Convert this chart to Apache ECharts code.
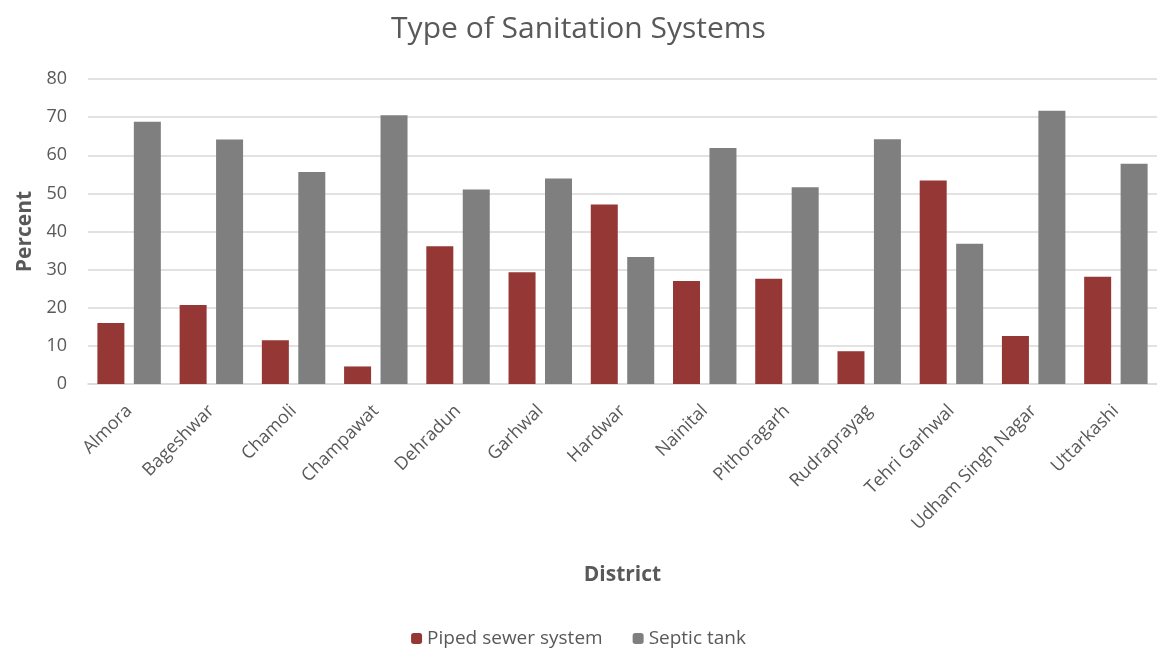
<!DOCTYPE html>
<html>
<head>
    <meta charset="utf-8">
    <title>Type of Sanitation Systems</title>
    <script src="https://cdn.jsdelivr.net/npm/echarts@6/dist/echarts.min.js"></script>
</head>
<body style="margin:0;background:#fff;">
    <div id="main" style="width:1157px;height:650px;"></div>
    <script type="text/javascript">
        // data
        var districts = ['Almora', 'Bageshwar', 'Chamoli', 'Champawat', 'Dehradun', 'Garhwal', 'Hardwar',
            'Nainital', 'Pithoragarh', 'Rudraprayag', 'Tehri Garhwal', 'Udham Singh Nagar', 'Uttarkashi'];
        var pipedSewer = [16.0, 20.7, 11.5, 4.6, 36.1, 29.3, 47.1, 27.0, 27.6, 8.6, 53.4, 12.6, 28.1];
        var septicTank = [68.8, 64.1, 55.6, 70.5, 51.0, 53.9, 33.3, 61.9, 51.6, 64.2, 36.8, 71.7, 57.8];

        var myChart = echarts.init(document.getElementById('main'));
        var font = 'Open Sans';

        var option = {
            animation: false,
            title: {
                text: 'Type of Sanitation Systems',
                left: 'center',
                top: 9,
                textStyle: { fontFamily: font, fontSize: 30, fontWeight: 'normal', color: '#595959' }
            },
            legend: {
                data: ['Piped sewer system', 'Septic tank'],
                bottom: -3,
                left: 'center',
                itemWidth: 11,
                itemHeight: 11,
                itemGap: 30,
                textStyle: { fontFamily: font, fontSize: 19, color: '#595959' }
            },
            grid: { left: 88, right: 0, top: 79, bottom: 266 },
            xAxis: {
                type: 'category',
                data: districts,
                name: 'District',
                nameLocation: 'middle',
                nameGap: 181,
                nameTextStyle: { fontFamily: font, fontSize: 21, fontWeight: 'bold', color: '#595959' },
                axisLine: { lineStyle: { color: '#d9d9d9', width: 1.5 } },
                axisTick: { show: false },
                axisLabel: { rotate: 45, fontFamily: font, fontSize: 18, color: '#595959', margin: 24, interval: 0 }
            },
            yAxis: {
                type: 'value',
                min: 0,
                max: 80,
                interval: 10,
                name: 'Percent',
                nameLocation: 'middle',
                nameGap: 52,
                nameTextStyle: { fontFamily: font, fontSize: 21, fontWeight: 'bold', color: '#595959' },
                axisLine: { show: false },
                axisTick: { show: false },
                axisLabel: { fontFamily: font, fontSize: 18, color: '#595959', margin: 21 },
                splitLine: { lineStyle: { color: '#d9d9d9', width: 1.5 } }
            },
            series: [
                {
                    name: 'Piped sewer system',
                    type: 'bar',
                    data: pipedSewer,
                    barWidth: 27,
                    barGap: '35%',
                    itemStyle: { color: '#953735' }
                },
                {
                    name: 'Septic tank',
                    type: 'bar',
                    data: septicTank,
                    barWidth: 27,
                    barGap: '35%',
                    itemStyle: { color: '#7f7f7f' }
                }
            ]
        };

        myChart.setOption(option);
    </script>
</body>
</html>
